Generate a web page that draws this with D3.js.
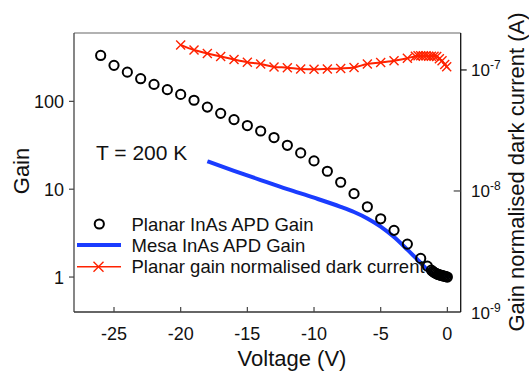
<!DOCTYPE html>
<html><head><meta charset="utf-8">
<script src="https://cdn.jsdelivr.net/npm/d3@7"></script>
<style>body{margin:0;background:#fff}svg{display:block}text{font-family:"Liberation Sans",Arial,sans-serif;fill:#111}</style>
</head><body><svg id="c" width="529" height="372"></svg>
<script>
// Planar InAs APD gain (circles)
const planarV = [-26,-25,-24,-23,-22,-21,-20,-19,-18,-17,-16,-15,-14,-13,-12,-11,-10,-9,-8,-7,-6,-5,-4,-3,-2,-1.5,-1.2,-1.1,-1.0,-0.9,-0.8,-0.7,-0.6,-0.5,-0.4,-0.3,-0.2,-0.1,0];
const planarGain = [333,257,215,181,156,136,120,103,86,73,62,53,46,38.7,31.6,25.9,21,16,12,8.9,6.3,4.6,3.4,2.37,1.63,1.33,1.2,1.16,1.13,1.11,1.09,1.07,1.06,1.05,1.04,1.03,1.02,1.01,1.0];
// Mesa InAs APD gain (blue line)
const mesaV = [-18,-16,-14,-12,-10,-8,-7,-6,-5,-4,-3,-2,-1.3,-0.6,0.2];
const mesaGain = [20.8,16.2,12.7,10.0,8.0,6.3,5.5,4.65,3.75,2.85,2.05,1.45,1.13,1.03,1.02];
// Planar gain normalised dark current (A)
const darkV = [-20,-19,-18,-17,-16,-15,-14,-13,-12,-11,-10,-9,-8,-7,-6,-5,-4,-3,-2.4,-2.2,-2.0,-1.8,-1.6,-1.4,-1.2,-1.0,-0.8,-0.6,-0.4,-0.2,-0.05];
const darkI = [1.61e-7,1.46e-7,1.37e-7,1.29e-7,1.22e-7,1.16e-7,1.12e-7,1.06e-7,1.045e-7,1.02e-7,1.013e-7,1.02e-7,1.03e-7,1.05e-7,1.12e-7,1.15e-7,1.19e-7,1.25e-7,1.30e-7,1.31e-7,1.31e-7,1.31e-7,1.31e-7,1.30e-7,1.30e-7,1.30e-7,1.29e-7,1.24e-7,1.19e-7,1.11e-7,1.065e-7];
const xTicks = [-25,-20,-15,-10,-5,0];
const gainTicks = [1,10,100];
const currentTicks = [1e-9,1e-8,1e-7];
const currentTickLabels = ["-9","-8","-7"];
const legendLabels = ["Planar InAs APD Gain","Mesa InAs APD Gain","Planar gain normalised dark current"];

const L=74,R=460.7,T=33,B=312;
const svg=d3.select("#c");
const x=d3.scaleLinear().domain([-28,1]).range([L,R]);
const yL=d3.scaleLog().domain([0.4,600]).range([B,T]);
const yR=d3.scaleLog().domain([1e-9,2.02e-7]).range([B,T]);

// frame
svg.append("line").attr("x1",L).attr("x2",R).attr("y1",T).attr("y2",T).attr("stroke","#999").attr("stroke-width",1.3);
svg.append("line").attr("x1",L).attr("x2",L).attr("y1",T).attr("y2",B).attr("stroke","#444").attr("stroke-width",1.3);
svg.append("line").attr("x1",L).attr("x2",R).attr("y1",B).attr("y2",B).attr("stroke","#333").attr("stroke-width",1.3);
svg.append("line").attr("x1",R).attr("x2",R).attr("y1",T).attr("y2",B).attr("stroke","#111").attr("stroke-width",1.3);

// x ticks (inward)
xTicks.forEach(v=>{
  svg.append("line").attr("x1",x(v)).attr("x2",x(v)).attr("y1",B).attr("y2",B-5).attr("stroke","#444").attr("stroke-width",1.2);
  svg.append("text").attr("x",x(v)).attr("y",340).attr("text-anchor","middle").attr("font-size",18).text(v);
});
svg.append("text").attr("x",292).attr("y",366).attr("text-anchor","middle").attr("font-size",22).text("Voltage (V)");

// left ticks (outward)
gainTicks.forEach(v=>{
  svg.append("line").attr("x1",L-5).attr("x2",L).attr("y1",yL(v)).attr("y2",yL(v)).attr("stroke","#444").attr("stroke-width",1.2);
  svg.append("text").attr("x",64).attr("y",yL(v)+6.5).attr("text-anchor","end").attr("font-size",18).text(v);
});
svg.append("text").attr("transform","translate(29,171) rotate(-90)").attr("text-anchor","middle").attr("font-size",22).text("Gain");

// right ticks
currentTicks.forEach((v,i)=>{
  const yy=yR(v);
  if(i===2) svg.append("line").attr("x1",R).attr("x2",R+6).attr("y1",yy).attr("y2",yy).attr("stroke","#111").attr("stroke-width",1.2);
  else if(i===1) svg.append("line").attr("x1",R-7).attr("x2",R).attr("y1",yy).attr("y2",yy).attr("stroke","#444").attr("stroke-width",1.2);
  const t=svg.append("text").attr("x",471).attr("y",yy+6.5).attr("font-size",17);
  t.append("tspan").text("10");
  t.append("tspan").attr("dy",-7).attr("font-size",12).text(currentTickLabels[i]);
});
svg.append("text").attr("transform","translate(524,172) rotate(-90)").attr("text-anchor","middle").attr("font-size",22).text("Gain normalised dark current (A)");

svg.append("text").attr("x",96).attr("y",160).attr("font-size",21).text("T = 200 K");

// red series
const red="#ff2200";
const lineR=d3.line().x((d,i)=>x(darkV[i])).y((d,i)=>yR(darkI[i])).curve(d3.curveMonotoneX);
svg.append("path").attr("d",lineR(darkI)).attr("fill","none").attr("stroke",red).attr("stroke-width",2);
const cross=(g,cx,cy,s)=>{g.append("path").attr("d",`M${cx-s},${cy-s}L${cx+s},${cy+s}M${cx-s},${cy+s}L${cx+s},${cy-s}`).attr("stroke",red).attr("stroke-width",1.4).attr("fill","none");};
darkI.forEach((v,i)=>cross(svg,x(darkV[i]),yR(v),4.5));

// blue series
const lineB=d3.line().x((d,i)=>x(mesaV[i])).y((d,i)=>yL(mesaGain[i])).curve(d3.curveMonotoneX);
svg.append("path").attr("d",lineB(mesaGain)).attr("fill","none").attr("stroke","#1a3cff").attr("stroke-width",4);

// circles
planarGain.forEach((v,i)=>{
  svg.append("circle").attr("cx",x(planarV[i])).attr("cy",yL(v)).attr("r",4.6).attr("fill","none").attr("stroke","#000").attr("stroke-width",2);
});

// legend
const lg=[224,245,266.7];
svg.append("circle").attr("cx",99.3).attr("cy",lg[0]).attr("r",4.6).attr("fill","none").attr("stroke","#000").attr("stroke-width",2);
svg.append("line").attr("x1",77).attr("x2",121).attr("y1",lg[1]).attr("y2",lg[1]).attr("stroke","#1a3cff").attr("stroke-width",4);
svg.append("line").attr("x1",77).attr("x2",121).attr("y1",lg[2]).attr("y2",lg[2]).attr("stroke",red).attr("stroke-width",1.5);
cross(svg,98.5,lg[2],5);
legendLabels.forEach((s,i)=>{
  svg.append("text").attr("x",131.5).attr("y",lg[i]+6.5).attr("font-size",18.5).text(s);
});
</script></body></html>
